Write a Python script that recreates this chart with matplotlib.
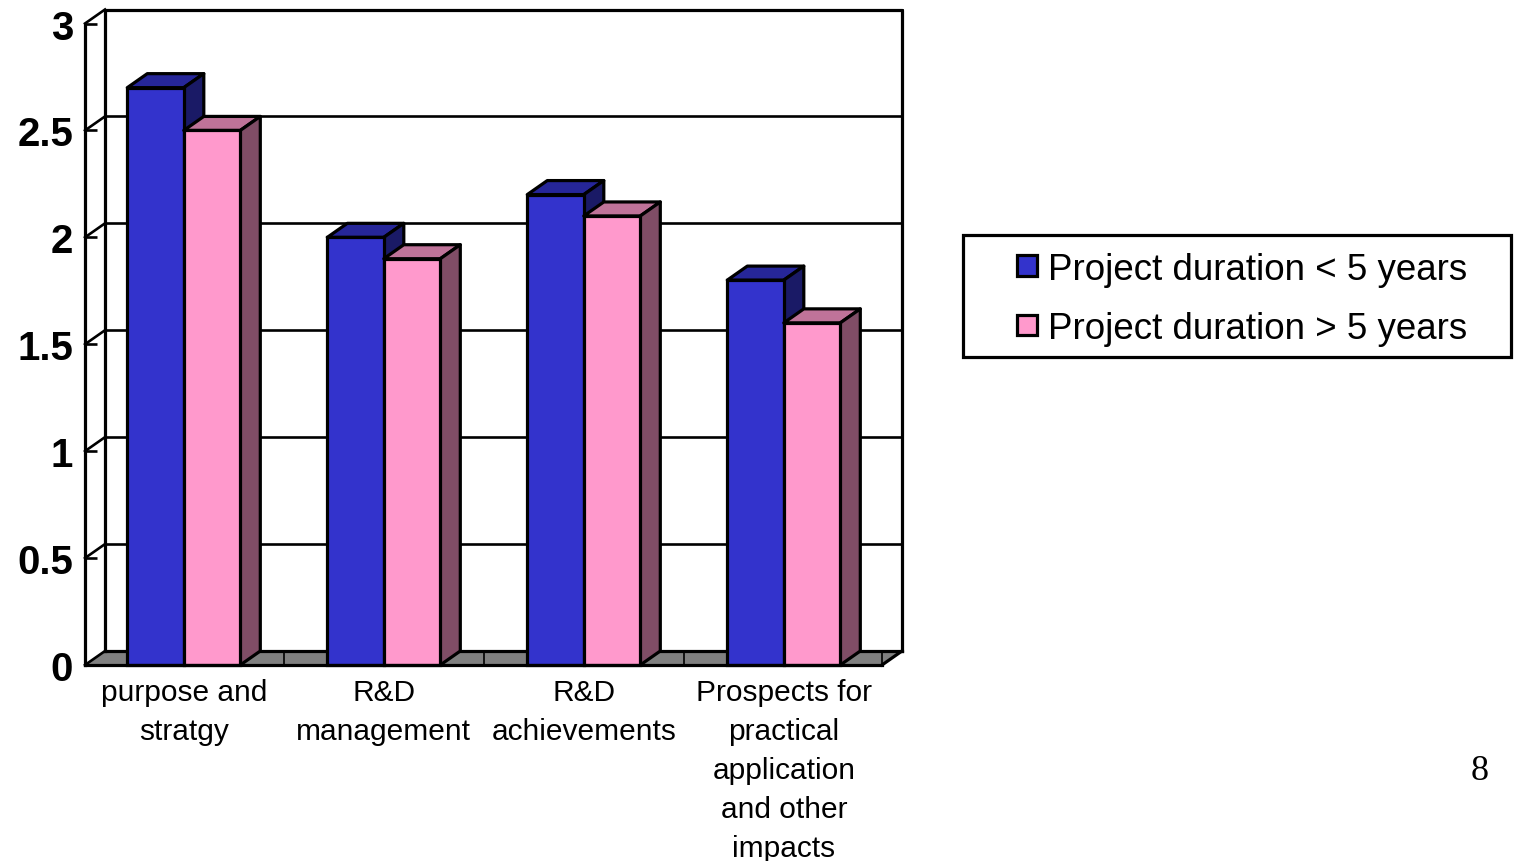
import matplotlib
matplotlib.use("Agg")
import matplotlib.pyplot as plt
from matplotlib.patches import Polygon, Rectangle

categories = [
    "purpose and\nstratgy",
    "R&D\nmanagement",
    "R&D\nachievements",
    "Prospects for\npractical\napplication\nand other\nimpacts",
]
short_projects = [2.7, 2.0, 2.2, 1.8]
long_projects = [2.5, 1.9, 2.1, 1.6]
series_names = ["Project duration < 5 years", "Project duration > 5 years"]
y_ticks = [0, 0.5, 1, 1.5, 2, 2.5, 3]
y_labels = ["0", "0.5", "1", "1.5", "2", "2.5", "3"]

W, H = 1514, 862
LEFT, RIGHT, TOP, BOTTOM = 85, 882, 24.5, 666
X0, X1 = -0.494, 3.491
BAR_W = 0.2825
# how far the back wall sits behind the front plane, in data units
DX = 20 / (RIGHT - LEFT) * (X1 - X0)
DY = 14 / (BOTTOM - TOP) * 3
LW = 2.3
THIN = 1.9

BLUE = ("#3333cc", "#262699", "#1a1a66")
PINK = ("#ff99cc", "#bf7399", "#804d66")


def fig_xy(x, y):
    return x / W, 1 - y / H


def draw_bars(ax, xs, values, colors, zorder):
    front, top, side = colors
    for x, v in zip(xs, values):
        l, r = x - BAR_W / 2, x + BAR_W / 2
        ax.add_patch(Polygon([(l, v), (r, v), (r + DX, v + DY), (l + DX, v + DY)],
                             fc=top, ec="black", lw=LW, clip_on=False, zorder=zorder, joinstyle="round"))
        ax.add_patch(Polygon([(r, 0), (r + DX, DY), (r + DX, v + DY), (r, v)],
                             fc=side, ec="black", lw=LW, clip_on=False, zorder=zorder, joinstyle="round"))
    ax.bar(xs, values, BAR_W, color=front, edgecolor="black", linewidth=LW, zorder=zorder + 0.5, clip_on=False)


fig = plt.figure(figsize=(W / 100, H / 100), dpi=100, facecolor="white")
ax = fig.add_axes([LEFT / W, 1 - BOTTOM / H, (RIGHT - LEFT) / W, (BOTTOM - TOP) / H])
ax.set_xlim(X0, X1)
ax.set_ylim(0, 3)
ax.patch.set_visible(False)
for name in ["top", "right", "bottom"]:
    ax.spines[name].set_visible(False)
ax.spines["left"].set_linewidth(LW)
ax.spines["left"].set_zorder(6)

# floor
ax.add_patch(Polygon([(X0, 0), (X1, 0), (X1 + DX, DY), (X0 + DX, DY)], fc="#808080", ec="none",
                     clip_on=False, zorder=1))
line = dict(color="black", lw=LW, clip_on=False, solid_capstyle="projecting")
ax.plot([X0 + DX, X1 + DX], [DY, DY], zorder=1.5, **line)
ax.plot([X0, X1], [0, 0], zorder=5, **line)
ax.plot([X1, X1 + DX], [0, DY], zorder=1.5, **line)
for x in [0.5, 1.5, 2.5, X1]:
    ax.plot([x, x], [0, DY], color="#111111", lw=1.4, clip_on=False, zorder=1.4)

# back wall, gridlines and the slanted ticks on the side wall
ax.plot([X0 + DX, X0 + DX, X1 + DX, X1 + DX], [DY, 3 + DY, 3 + DY, DY], zorder=1.5, **line)
for t in y_ticks[1:]:
    ax.plot([X0 + DX, X1 + DX], [t + DY, t + DY], color="black", lw=THIN, clip_on=False, zorder=1.2)
for t in y_ticks:
    ax.plot([X0, X0 + DX], [t, t + DY], color="black", lw=THIN, clip_on=False, zorder=1.3)

xs = list(range(len(categories)))
draw_bars(ax, [x - BAR_W / 2 for x in xs], short_projects, BLUE, 2)
draw_bars(ax, [x + BAR_W / 2 for x in xs], long_projects, PINK, 3)

ax.set_yticks(y_ticks, y_labels, family="Liberation Sans", fontweight="bold", fontsize=29)
ax.tick_params(axis="y", direction="in", length=8.5, width=THIN, pad=8.5)
ax.set_xticks(xs, categories, family="Liberation Sans", fontsize=21.5, linespacing=1.5)
ax.tick_params(axis="x", length=0, pad=9.5)

# legend box
x0, y0 = fig_xy(963, 358)
x1, y1 = fig_xy(1511, 236)
fig.add_artist(Rectangle((x0, y0), x1 - x0, y1 - y0, transform=fig.transFigure, fc="white", ec="black", lw=LW))
for name, colors, cy in zip(series_names, [BLUE, PINK], [266.5, 325.5]):
    x0, y0 = fig_xy(1017, cy + 10)
    x1, y1 = fig_xy(1037, cy - 10)
    fig.add_artist(Rectangle((x0, y0), x1 - x0, y1 - y0, transform=fig.transFigure,
                             fc=colors[0], ec="black", lw=LW))
    tx, ty = fig_xy(1048, cy + 4)
    fig.text(tx, ty, name, family="Liberation Sans", fontsize=26.5, va="center", ha="left")

tx, ty = fig_xy(1480, 772)
fig.text(tx, ty, "8", family="Liberation Serif", fontsize=26, va="center", ha="center")

fig.savefig("out.png", dpi=100)
